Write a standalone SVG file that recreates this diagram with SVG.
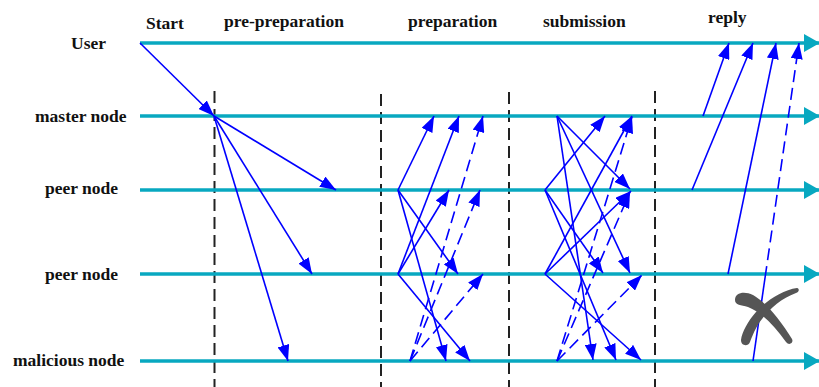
<svg xmlns="http://www.w3.org/2000/svg" width="819" height="387" viewBox="0 0 819 387">
<style>
.lbl{font-family:"Liberation Serif","Times New Roman",serif;font-weight:bold;font-size:17.5px;fill:#111}
.life{stroke:#08A8C0;stroke-width:3.5;fill:none;marker-end:url(#ch)}
.msg{stroke:#0000FF;stroke-width:1.6;fill:none;marker-end:url(#ah)}
.dmsg{stroke:#0000FF;stroke-width:1.6;fill:none;stroke-dasharray:12 6;marker-end:url(#ah)}
.sep{stroke:#222;stroke-width:2;stroke-dasharray:12 6;fill:none}
</style>
<defs>
<marker id="ah" markerUnits="userSpaceOnUse" markerWidth="16" markerHeight="12" refX="16" refY="6" orient="auto" viewBox="0 0 16 12"><path d="M0,0 L16,6 L0,12 z" fill="#0000FF"/></marker>
<marker id="ch" markerUnits="userSpaceOnUse" markerWidth="16" markerHeight="18" refX="16" refY="9" orient="auto" viewBox="0 0 16 18"><path d="M0,0 L16,9 L0,18 z" fill="#08A8C0"/></marker>
</defs>
<rect width="819" height="387" fill="#fff"/>

<g id="phases">
<text class="lbl" x="146" y="29">Start</text>
<text class="lbl" x="224" y="27">pre-preparation</text>
<text class="lbl" x="408" y="27">preparation</text>
<text class="lbl" x="543" y="27">submission</text>
<text class="lbl" x="708" y="23">reply</text>
</g>

<g id="separators">
<line class="sep" x1="214.5" y1="91" x2="214.5" y2="387"/>
<line class="sep" x1="381" y1="94" x2="381" y2="387"/>
<line class="sep" x1="509" y1="92" x2="509" y2="387"/>
<line class="sep" x1="655" y1="91" x2="655" y2="387"/>
</g>

<g id="user">
<text class="lbl" x="71" y="49">User</text>
<line class="life" x1="140" y1="43" x2="820" y2="43"/>
</g>
<g id="master">
<text class="lbl" x="35" y="122">master node</text>
<line class="life" x1="140" y1="116" x2="820" y2="116"/>
</g>
<g id="peer1">
<text class="lbl" x="45" y="194">peer node</text>
<line class="life" x1="140" y1="190" x2="820" y2="190"/>
</g>
<g id="peer2">
<text class="lbl" x="45" y="280">peer node</text>
<line class="life" x1="140" y1="274" x2="820" y2="274"/>
</g>
<g id="malicious">
<text class="lbl" x="13" y="366">malicious node</text>
<line class="life" x1="140" y1="361" x2="820" y2="361"/>
</g>

<g id="connectors">
<!-- request -->
<line class="msg" x1="140" y1="43" x2="214" y2="116"/>
<!-- pre-preparation -->
<line class="msg" x1="214" y1="116" x2="336" y2="190"/>
<line class="msg" x1="214" y1="116" x2="312" y2="274"/>
<line class="msg" x1="214" y1="116" x2="288" y2="361"/>
<!-- preparation -->
<line class="msg" x1="398" y1="190" x2="434" y2="116"/>
<line class="msg" x1="398" y1="190" x2="458" y2="274"/>
<line class="msg" x1="398" y1="190" x2="446" y2="361"/>
<line class="msg" x1="398" y1="274" x2="459" y2="116"/>
<line class="msg" x1="398" y1="274" x2="449" y2="190"/>
<line class="msg" x1="398" y1="274" x2="470" y2="361"/>
<line class="dmsg" x1="410" y1="361" x2="483" y2="116"/>
<line class="dmsg" x1="410" y1="361" x2="480" y2="190"/>
<line class="dmsg" x1="410" y1="361" x2="483" y2="274"/>
<!-- submission -->
<line class="msg" x1="557" y1="116" x2="630" y2="189"/>
<line class="msg" x1="557" y1="116" x2="630" y2="273"/>
<line class="msg" x1="557" y1="116" x2="593" y2="360"/>
<line class="msg" x1="545" y1="190" x2="605" y2="116"/>
<line class="msg" x1="545" y1="190" x2="603" y2="273"/>
<line class="msg" x1="545" y1="190" x2="616" y2="360"/>
<line class="msg" x1="545" y1="274" x2="632" y2="116"/>
<line class="msg" x1="545" y1="274" x2="631" y2="191"/>
<line class="msg" x1="545" y1="274" x2="641" y2="360"/>
<line class="dmsg" x1="557" y1="361" x2="632" y2="117"/>
<line class="dmsg" x1="557" y1="361" x2="630" y2="192"/>
<line class="dmsg" x1="557" y1="361" x2="642" y2="275"/>
<!-- reply -->
<line class="msg" x1="703" y1="116" x2="729" y2="43"/>
<line class="msg" x1="692" y1="190" x2="753" y2="43"/>
<line class="msg" x1="728" y1="274" x2="776" y2="43"/>
<line x1="753" y1="361" x2="765" y2="278" stroke="#0000FF" stroke-width="1.6"/>
<line class="dmsg" x1="765" y1="278" x2="799" y2="43"/>
</g>

<g id="reject-mark" fill="#555" stroke="none">
<path d="M735,300 C735,292 745,291 753,295 C767,303 781,321 792,339 C794,343 789,346 786,342 C775,327 763,313 748,307 C741,305 735,305 735,300 Z"/>
<path d="M797,288 C800,289 799,292 796,293 C780,299 768,310 759,323 C754,331 752,337 750,342 C748,347 741,346 741,340 C742,332 748,321 756,312 C767,300 783,290 797,288 Z"/>
</g>
</svg>
